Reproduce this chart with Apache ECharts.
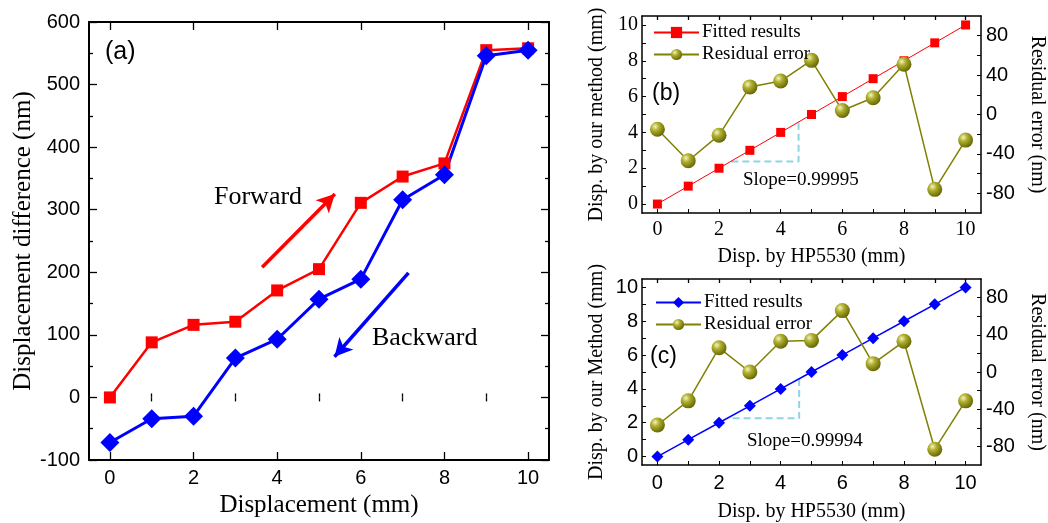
<!DOCTYPE html>
<html>
<head>
<meta charset="utf-8">
<script src="https://cdn.jsdelivr.net/npm/echarts@6/dist/echarts.min.js"></script>
<style>
  html, body { margin: 0; padding: 0; background: #fff; }
  #main { width: 1048px; height: 523px; }
</style>
</head>
<body>
<div id="main"></div>
<script>
// x positions (mm)
var xs = [0, 1, 2, 3, 4, 5, 6, 7, 8, 9, 10];
// (a) displacement difference (nm)
var forward = [0, 88, 116, 121, 171, 205, 311, 353, 374, 555, 558];
var backward = [-72, -34, -30, 63, 93, 157, 189, 316, 356, 546, 555];
// (a) arrows [start, end] in data units
var fwdArrow = [[3.64, 208], [5.38, 325]];
var bwdArrow = [[7.14, 199], [5.37, 65]];
// (b) fitted + residual
var fitB = [0, 1, 2, 3, 4, 5, 6, 7, 8, 9, 10];
var resB = [-15, -47, -21, 28, 34, 55, 4, 17, 51, -76, -26];
var slopeB = [[2.4, 2.37], [4.58, 2.37], [4.58, 4.6]];
// (c) fitted + residual
var fitC = [0, 1, 2, 3, 4, 5, 6, 7, 8, 9, 10];
var resC = [-57, -31, 26, 0, 33, 34, 66, 9, 33, -83, -31];
var slopeC = [[2.44, 2.26], [4.6, 2.26], [4.6, 4.6]];
// tick values
var xMajorA = [0, 2, 4, 6, 8, 10];
var xMinorA = [1, 3, 5, 7, 9];
var xTicks = [0, 1, 2, 3, 4, 5, 6, 7, 8, 9, 10];
var yLabelsBC = [0, 2, 4, 6, 8, 10];
var rLabels = [-80, -40, 0, 40, 80];
var rTicks = [-80, -60, -40, -20, 0, 20, 40, 60, 80];

var SERIF = 'Liberation Serif';
var SANS = 'Liberation Sans';

var zip = function (a, b) {
    var out = [];
    for (var i = 0; i < a.length; i++) out.push([a[i], b[i]]);
    return out;
};

var ball = {
    type: 'radial', x: 0.35, y: 0.32, r: 0.75,
    colorStops: [
        { offset: 0, color: '#f4f4c0' },
        { offset: 0.35, color: '#b0b030' },
        { offset: 1, color: '#5e5e00' }
    ]
};

// axis that only draws ticks (top side / minor ticks)
var tickAxis = function (grid, pos, vals, len, extra) {
    var ax = {
        type: 'value', gridIndex: grid, position: pos,
        axisLine: { show: false },
        axisLabel: { show: false },
        axisTick: { show: true, inside: true, length: len, customValues: vals,
                    lineStyle: { color: '#000', width: 1.3 } },
        splitLine: { show: false }
    };
    for (var k in extra) ax[k] = extra[k];
    return ax;
};

var chart = echarts.init(document.getElementById('main'));

var option = {
    backgroundColor: '#fff',
    animation: false,
    grid: [
        { left: 89, top: 22, width: 460, height: 440 },
        { left: 642, top: 16, width: 340, height: 197 },
        { left: 642, top: 279, width: 340, height: 192 }
    ],
    xAxis: [
        // (a)
        {
            type: 'value', gridIndex: 0, position: 'bottom', min: -0.5, max: 10.5,
            name: 'Displacement (mm)', nameLocation: 'middle', nameGap: 33,
            nameTextStyle: { fontFamily: SERIF, fontSize: 25, color: '#000' },
            axisLine: { show: true, onZero: false, lineStyle: { color: '#000', width: 2 } },
            axisTick: { show: true, inside: true, length: 8, customValues: xMajorA, lineStyle: { color: '#000', width: 1.3 } },
            axisLabel: { customValues: xMajorA, margin: 8, fontFamily: SANS, fontSize: 20, color: '#000' },
            splitLine: { show: false }
        },
        tickAxis(0, 'bottom', xMinorA, 4, { min: -0.5, max: 10.5 }),
        tickAxis(0, 'top', xMajorA, 8, { min: -0.5, max: 10.5, axisLine: { show: true, onZero: false, lineStyle: { color: '#000', width: 2 } } }),
        tickAxis(0, 'top', xMinorA, 4, { min: -0.5, max: 10.5 }),
        // (b)
        {
            type: 'value', gridIndex: 1, position: 'bottom', min: -0.5, max: 10.5,
            name: 'Disp. by HP5530 (mm)', nameLocation: 'middle', nameGap: 34,
            nameTextStyle: { fontFamily: SERIF, fontSize: 20, color: '#000' },
            axisLine: { show: true, onZero: false, lineStyle: { color: '#000', width: 1.5 } },
            axisTick: { show: true, inside: true, length: 4, customValues: xTicks, lineStyle: { color: '#000' } },
            axisLabel: { customValues: yLabelsBC, margin: 7, fontFamily: SERIF, fontSize: 20, color: '#000' },
            splitLine: { show: false }
        },
        tickAxis(1, 'top', xTicks, 4, { min: -0.5, max: 10.5, axisLine: { show: true, onZero: false, lineStyle: { color: '#000', width: 1.5 } } }),
        // (c)
        {
            type: 'value', gridIndex: 2, position: 'bottom', min: -0.5, max: 10.5,
            name: 'Disp. by HP5530 (mm)', nameLocation: 'middle', nameGap: 37,
            nameTextStyle: { fontFamily: SERIF, fontSize: 20, color: '#000' },
            axisLine: { show: true, onZero: false, lineStyle: { color: '#000', width: 1.5 } },
            axisTick: { show: true, inside: true, length: 4, customValues: xTicks, lineStyle: { color: '#000' } },
            axisLabel: { customValues: yLabelsBC, margin: 8, fontFamily: SANS, fontSize: 20, color: '#000' },
            splitLine: { show: false }
        },
        tickAxis(2, 'top', xTicks, 4, { min: -0.5, max: 10.5, axisLine: { show: true, onZero: false, lineStyle: { color: '#000', width: 1.5 } } })
    ],
    yAxis: [
        // (a)
        {
            type: 'value', gridIndex: 0, position: 'left', min: -100, max: 600, interval: 100,
            name: 'Displacement difference (nm)', nameLocation: 'middle', nameGap: 53,
            nameTextStyle: { fontFamily: SERIF, fontSize: 25, color: '#000' },
            axisLine: { show: true, onZero: false, lineStyle: { color: '#000', width: 2 } },
            axisTick: { show: true, inside: true, length: 8, lineStyle: { color: '#000', width: 1.3 } },
            minorTick: { show: true, splitNumber: 2, length: 4, lineStyle: { color: '#000', width: 1.3 } },
            axisLabel: { margin: 9, fontFamily: SANS, fontSize: 20, color: '#000' },
            splitLine: { show: false }
        },
        {
            type: 'value', gridIndex: 0, position: 'right', min: -100, max: 600, interval: 100,
            axisLine: { show: true, onZero: false, lineStyle: { color: '#000', width: 2 } },
            axisTick: { show: true, inside: true, length: 8, lineStyle: { color: '#000', width: 1.3 } },
            minorTick: { show: true, splitNumber: 2, length: 4, lineStyle: { color: '#000', width: 1.3 } },
            axisLabel: { show: false },
            splitLine: { show: false }
        },
        // (b)
        {
            type: 'value', gridIndex: 1, position: 'left', min: -0.5, max: 10.5,
            name: 'Disp. by our method (mm)', nameLocation: 'middle', nameGap: 35,
            nameTextStyle: { fontFamily: SERIF, fontSize: 20, color: '#000' },
            axisLine: { show: true, onZero: false, lineStyle: { color: '#000', width: 1.5 } },
            axisTick: { show: true, inside: true, length: 4, customValues: xTicks, lineStyle: { color: '#000' } },
            axisLabel: { customValues: yLabelsBC, margin: 4, fontFamily: SERIF, fontSize: 20, color: '#000' },
            splitLine: { show: false }
        },
        {
            type: 'value', gridIndex: 1, position: 'right', min: -100, max: 100,
            name: 'Residual error (nm)', nameLocation: 'middle', nameGap: 46, nameRotate: -90,
            nameTextStyle: { fontFamily: SERIF, fontSize: 20, color: '#000' },
            axisLine: { show: true, onZero: false, lineStyle: { color: '#000', width: 1.5 } },
            axisTick: { show: true, inside: true, length: 4, customValues: rTicks, lineStyle: { color: '#000' } },
            axisLabel: { customValues: rLabels, margin: 5, fontFamily: SANS, fontSize: 20, color: '#000' },
            splitLine: { show: false }
        },
        // (c)
        {
            type: 'value', gridIndex: 2, position: 'left', min: -0.5, max: 10.5,
            name: 'Disp. by our Method (mm)', nameLocation: 'middle', nameGap: 35,
            nameTextStyle: { fontFamily: SERIF, fontSize: 20, color: '#000' },
            axisLine: { show: true, onZero: false, lineStyle: { color: '#000', width: 1.5 } },
            axisTick: { show: true, inside: true, length: 4, customValues: xTicks, lineStyle: { color: '#000' } },
            axisLabel: { customValues: yLabelsBC, margin: 4, fontFamily: SANS, fontSize: 20, color: '#000' },
            splitLine: { show: false }
        },
        {
            type: 'value', gridIndex: 2, position: 'right', min: -100, max: 100,
            name: 'Residual error (nm)', nameLocation: 'middle', nameGap: 46, nameRotate: -90,
            nameTextStyle: { fontFamily: SERIF, fontSize: 20, color: '#000' },
            axisLine: { show: true, onZero: false, lineStyle: { color: '#000', width: 1.5 } },
            axisTick: { show: true, inside: true, length: 4, customValues: rTicks, lineStyle: { color: '#000' } },
            axisLabel: { customValues: rLabels, margin: 5, fontFamily: SANS, fontSize: 20, color: '#000' },
            splitLine: { show: false }
        }
    ],
    legend: [
        {
            left: 648, top: 18, orient: 'vertical', itemWidth: 45, itemHeight: 14, itemGap: 3,
            data: ['Fitted results', 'Residual error'],
            textStyle: { fontFamily: SERIF, fontSize: 19, color: '#000', padding: [0, 0, 0, -2] },
            selectedMode: false
        },
        {
            left: 650, top: 288, orient: 'vertical', itemWidth: 45, itemHeight: 14, itemGap: 3,
            data: ['Fitted results (c)', 'Residual error (c)'],
            formatter: function (name) { return name.replace(' (c)', ''); },
            textStyle: { fontFamily: SERIF, fontSize: 19, color: '#000', padding: [0, 0, 0, -2] },
            selectedMode: false
        }
    ],
    graphic: [
        { type: 'text', left: 105, top: 40, style: { text: '(a)', font: '25px ' + SANS, fill: '#000' } },
        { type: 'text', left: 214, top: 184, style: { text: 'Forward', font: '26px ' + SERIF, fill: '#000' } },
        { type: 'text', left: 372, top: 325, style: { text: 'Backward', font: '26px ' + SERIF, fill: '#000' } },
        { type: 'text', left: 652, top: 82, style: { text: '(b)', font: '23px ' + SANS, fill: '#000' } },
        { type: 'text', left: 743, top: 171, style: { text: 'Slope=0.99995', font: '19px ' + SERIF, fill: '#000' } },
        { type: 'text', left: 650, top: 345, style: { text: '(c)', font: '23px ' + SANS, fill: '#000' } },
        { type: 'text', left: 747, top: 432, style: { text: 'Slope=0.99994', font: '19px ' + SERIF, fill: '#000' } }
    ],
    series: [
        // (a)
        {
            name: 'Forward', type: 'line', xAxisIndex: 0, yAxisIndex: 0,
            data: zip(xs, forward), symbol: 'rect', symbolSize: 12,
            itemStyle: { color: '#ff0000' }, lineStyle: { color: '#ff0000', width: 2.5 },
            markLine: {
                silent: true, symbol: ['none', 'arrow'], symbolSize: [14, 18],
                label: { show: false }, lineStyle: { color: '#ff0000', width: 3.5, type: 'solid' },
                data: [[{ coord: fwdArrow[0] }, { coord: fwdArrow[1] }]]
            }
        },
        {
            name: 'Backward', type: 'line', xAxisIndex: 0, yAxisIndex: 0,
            data: zip(xs, backward), symbol: 'diamond', symbolSize: 19,
            itemStyle: { color: '#0000ff' }, lineStyle: { color: '#0000ff', width: 3 },
            markLine: {
                silent: true, symbol: ['none', 'arrow'], symbolSize: [14, 18],
                label: { show: false }, lineStyle: { color: '#0000ff', width: 3.5, type: 'solid' },
                data: [[{ coord: bwdArrow[0] }, { coord: bwdArrow[1] }]]
            }
        },
        // (b)
        {
            name: 'slopeB', type: 'line', xAxisIndex: 4, yAxisIndex: 2,
            data: slopeB, symbol: 'none',
            lineStyle: { color: '#8fd3e6', width: 2, type: [7, 4] }
        },
        {
            name: 'Fitted results', type: 'line', xAxisIndex: 4, yAxisIndex: 2,
            data: zip(xs, fitB), symbol: 'rect', symbolSize: 9,
            itemStyle: { color: '#ff0000' }, lineStyle: { color: '#ff0000', width: 1 }
        },
        {
            name: 'Residual error', type: 'line', xAxisIndex: 4, yAxisIndex: 3,
            data: zip(xs, resB), symbol: 'circle', symbolSize: 15,
            itemStyle: { color: ball }, lineStyle: { color: '#808000', width: 1.5 }
        },
        // (c)
        {
            name: 'slopeC', type: 'line', xAxisIndex: 6, yAxisIndex: 4,
            data: slopeC, symbol: 'none',
            lineStyle: { color: '#8fd3e6', width: 2, type: [7, 4] }
        },
        {
            name: 'Fitted results (c)', type: 'line', xAxisIndex: 6, yAxisIndex: 4,
            data: zip(xs, fitC), symbol: 'diamond', symbolSize: 12,
            itemStyle: { color: '#0000ff' }, lineStyle: { color: '#0000ff', width: 1.5 }
        },
        {
            name: 'Residual error (c)', type: 'line', xAxisIndex: 6, yAxisIndex: 5,
            data: zip(xs, resC), symbol: 'circle', symbolSize: 15,
            itemStyle: { color: ball }, lineStyle: { color: '#808000', width: 1.5 }
        }
    ]
};

chart.setOption(option);
</script>
</body>
</html>
